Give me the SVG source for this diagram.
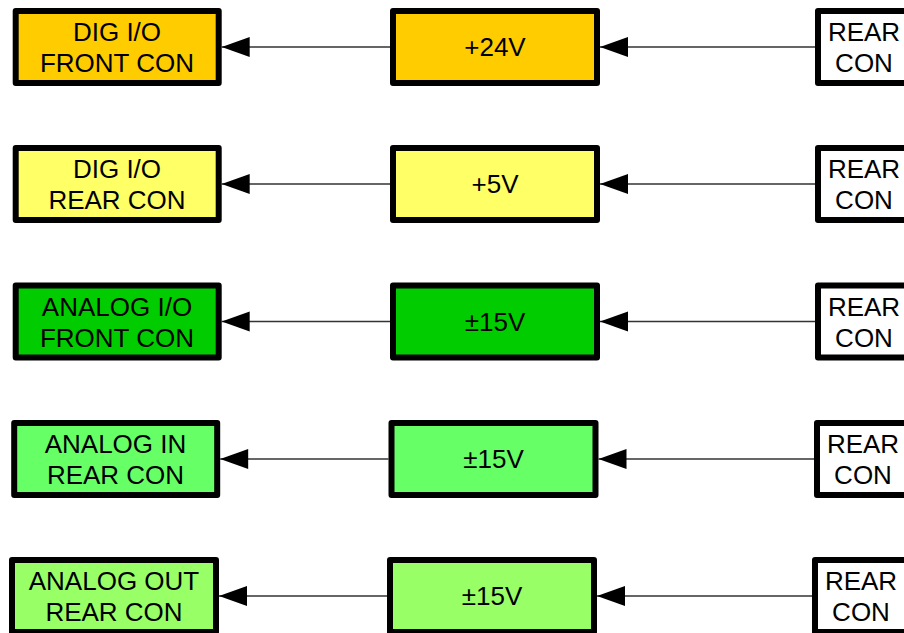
<svg xmlns="http://www.w3.org/2000/svg" width="904" height="633" viewBox="0 0 904 633">
<defs>
<marker id="arr" markerUnits="userSpaceOnUse" markerWidth="28" markerHeight="20" refX="28" refY="10" orient="auto" overflow="visible">
<path d="M0,0 L28,10 L0,20 Z" fill="#000"/>
</marker>
<style>
.box{stroke:#000;stroke-width:6;stroke-linejoin:round}
.t{font-family:"Liberation Sans",Arial,sans-serif;font-size:26px;fill:#000;text-anchor:middle}
.c{fill:none;stroke:#333;stroke-width:1.3;marker-end:url(#arr)}
</style>
</defs>
<rect width="904" height="633" fill="#fff"/>
<g id="connectors">
<path class="c" d="M815,47 L600,47"/>
<path class="c" d="M390,47 L221.7,47"/>
<path class="c" d="M815,184 L600,184"/>
<path class="c" d="M390,184 L221.7,184"/>
<path class="c" d="M815,321.5 L600,321.5"/>
<path class="c" d="M390,321.5 L221.7,321.5"/>
<path class="c" d="M814,459 L598.5,459"/>
<path class="c" d="M388.5,459 L220.2,459"/>
<path class="c" d="M812,596 L597,596"/>
<path class="c" d="M387,596 L219,596"/>
</g>
<g id="row1-left"><rect class="box" x="15.7" y="11" width="203" height="72" fill="#FFCC00"/><text class="t" x="117" y="41">DIG I/O</text><text class="t" x="117" y="72">FRONT CON</text></g>
<g id="row1-mid"><rect class="box" x="393" y="11" width="204" height="72" fill="#FFCC00"/><text class="t" x="495" y="56">+24V</text></g>
<g id="row1-right"><rect class="box" x="818" y="11" width="100" height="72" fill="#fff"/><text class="t" x="864" y="41">REAR</text><text class="t" x="864" y="72">CON</text></g>

<g id="row2-left"><rect class="box" x="15.7" y="148" width="203" height="72" fill="#FFFF66"/><text class="t" x="117" y="178">DIG I/O</text><text class="t" x="117" y="209">REAR CON</text></g>
<g id="row2-mid"><rect class="box" x="393" y="148" width="204" height="72" fill="#FFFF66"/><text class="t" x="495" y="193">+5V</text></g>
<g id="row2-right"><rect class="box" x="818" y="148" width="100" height="72" fill="#fff"/><text class="t" x="864" y="178">REAR</text><text class="t" x="864" y="209">CON</text></g>

<g id="row3-left"><rect class="box" x="15.7" y="285.5" width="203" height="72" fill="#00CC00"/><text class="t" x="117" y="315.5">ANALOG I/O</text><text class="t" x="117" y="346.5">FRONT CON</text></g>
<g id="row3-mid"><rect class="box" x="393" y="285.5" width="204" height="72" fill="#00CC00"/><text class="t" x="495" y="330.5">±15V</text></g>
<g id="row3-right"><rect class="box" x="818" y="285.5" width="100" height="72" fill="#fff"/><text class="t" x="864" y="315.5">REAR</text><text class="t" x="864" y="346.5">CON</text></g>

<g id="row4-left"><rect class="box" x="14.2" y="423" width="203" height="72" fill="#66FF66"/><text class="t" x="115.5" y="453">ANALOG IN</text><text class="t" x="115.5" y="484">REAR CON</text></g>
<g id="row4-mid"><rect class="box" x="391.5" y="423" width="204" height="72" fill="#66FF66"/><text class="t" x="493.5" y="468">±15V</text></g>
<g id="row4-right"><rect class="box" x="817" y="423" width="100" height="72" fill="#fff"/><text class="t" x="863" y="453">REAR</text><text class="t" x="863" y="484">CON</text></g>

<g id="row5-left"><rect class="box" x="12" y="560" width="204" height="72" fill="#99FF66"/><text class="t" x="114" y="590">ANALOG OUT</text><text class="t" x="114" y="621">REAR CON</text></g>
<g id="row5-mid"><rect class="box" x="390" y="560" width="204" height="72" fill="#99FF66"/><text class="t" x="492" y="605">±15V</text></g>
<g id="row5-right"><rect class="box" x="815" y="560" width="100" height="72" fill="#fff"/><text class="t" x="861" y="590">REAR</text><text class="t" x="861" y="621">CON</text></g>
</svg>
